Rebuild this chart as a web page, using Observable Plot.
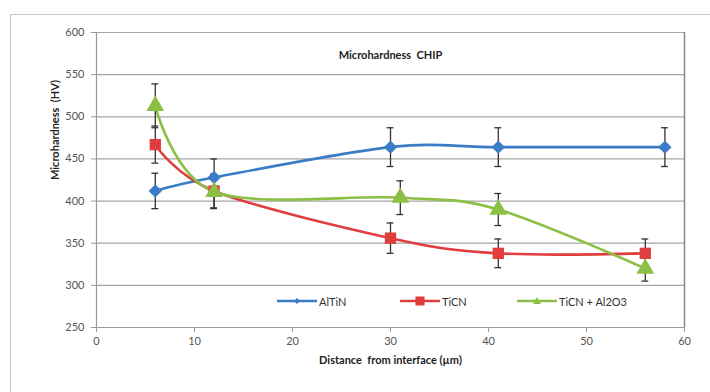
<!DOCTYPE html>
<html><head><meta charset="utf-8">
<script src="https://cdn.jsdelivr.net/npm/d3@7"></script>
<script src="https://cdn.jsdelivr.net/npm/@observablehq/plot@0.6"></script>
<style>
html,body{margin:0;padding:0;background:#fff;}
#wrap{position:relative;width:710px;height:392px;overflow:hidden;font-family:Lato,"Open Sans",sans-serif;}
#border{position:absolute;left:10px;top:14px;width:760px;height:420px;border:1px solid #c8c8c8;box-sizing:border-box;}
#legend{position:absolute;top:294px;left:0;width:710px;height:16px;font-size:11px;color:#333;}
.li{position:absolute;display:flex;align-items:center;gap:2px;}
</style></head>
<body><div id="wrap"><div id="border"></div><div id="chart"></div><div id="legend"></div></div>
<script>
const title = "Microhardness  CHIP";
const xLabel = "Distance  from interface (µm)";
const yLabel = "Microhardness  (HV)";
const seriesNames = ["AlTiN", "TiCN", "TiCN + Al2O3"];
const colors = ["#3a7cc6", "#e03e3e", "#8cbf44"];
const symbols = ["diamond2", "square", "triangle"];
const xTicks = [0, 10, 20, 30, 40, 50, 60];
const yTicks = [250, 300, 350, 400, 450, 500, 550, 600];

const distAlTiN = [6, 12, 30, 41, 58];
const hvAlTiN   = [412, 428, 464, 464, 464];
const errAlTiN  = [21, 22, 23, 23, 23];

const distTiCN = [6, 12, 30, 41, 56];
const hvTiCN   = [467, 412, 356, 338, 338];
const errTiCN  = [22, 20, 18, 17, 17];

const distMix = [6, 12, 31, 41, 56];
const hvMix   = [513, 411, 404, 390, 320];
const errMix  = [26, 20, 20, 19, 15];

const src = [[distAlTiN, hvAlTiN, errAlTiN], [distTiCN, hvTiCN, errTiCN], [distMix, hvMix, errMix]];
const data = [];
src.forEach(([xs, ys, es], i) => xs.forEach((x, j) => data.push({series: seriesNames[i], x, y: ys[j], e: es[j]})));

const capHalf = 0.35;
const marks = [
  Plot.gridY(yTicks, {stroke: "#a6a6a6", strokeOpacity: 1, strokeWidth: 1.2}),
  Plot.ruleX([60], {stroke: "#888", strokeWidth: 1.5}),
  Plot.ruleX([0], {stroke: "#9a9a9a", strokeWidth: 1.2}),
  Plot.ruleY([250], {stroke: "#9a9a9a", strokeWidth: 1.2}),
  Plot.axisY(yTicks, {tickSize: 5, tickPadding: 7, stroke: "#9a9a9a", fill: "#555", fontSize: 11, label: null}),
  Plot.axisX(xTicks, {tickSize: 5, tickPadding: 5, stroke: "#9a9a9a", fill: "#555", fontSize: 11, label: null}),
];
seriesNames.forEach((s, i) => {
  marks.push(Plot.line(data.filter(d => d.series === s), {x: "x", y: "y", stroke: colors[i], strokeWidth: 2.6, curve: "cardinal", tension: 0}));
});
marks.push(
  Plot.ruleX(data, {x: "x", y1: d => d.y - d.e, y2: d => d.y + d.e, stroke: "#333", strokeWidth: 1.3}),
  Plot.ruleY(data, {y: d => d.y - d.e, x1: d => d.x - capHalf, x2: d => d.x + capHalf, stroke: "#333", strokeWidth: 1.3}),
  Plot.ruleY(data, {y: d => d.y + d.e, x1: d => d.x - capHalf, x2: d => d.x + capHalf, stroke: "#333", strokeWidth: 1.3})
);
seriesNames.forEach((s, i) => {
  const r = i === 0 ? 6 : (i === 1 ? 6.4 : 6.6);
  marks.push(Plot.dot(data.filter(d => d.series === s), {x: "x", y: "y", symbol: () => symbols[i], fill: colors[i], stroke: "none", r}));
});
marks.push(Plot.text([title], {frameAnchor: "top", dy: 19, fontWeight: "bold", fontSize: 11, fill: "#222"}));
marks.push(Plot.text([yLabel], {frameAnchor: "left", dx: -41, rotate: -90, fontWeight: "bold", fontSize: 11, fill: "#222"}));
marks.push(Plot.text([xLabel], {frameAnchor: "bottom", dy: 36, fontWeight: "bold", fontSize: 11, fill: "#222"}));

const chart = Plot.plot({
  width: 710, height: 392,
  marginLeft: 96, marginRight: 26, marginTop: 32, marginBottom: 65,
  x: {domain: [0, 60]},
  y: {domain: [250, 600]},
  symbol: {type: "identity"},
  style: {fontFamily: "Lato, 'Open Sans', sans-serif", background: "transparent", overflow: "visible"},
  marks
});
document.getElementById("chart").appendChild(chart);
chart.style.position = "absolute"; chart.style.left = "0"; chart.style.top = "0";

// Legend
const legendX = [277, 400, 517];
const lg = document.getElementById("legend");
seriesNames.forEach((s, i) => {
  const d = document.createElement("div");
  d.className = "li"; d.style.left = legendX[i] + "px";
  const sym = i === 0 ? `<path d="M20,4 L23,7 L20,10 L17,7Z" fill="${colors[i]}"/>`
    : i === 1 ? `<rect x="15.5" y="2.5" width="9" height="9" fill="${colors[i]}"/>`
    : `<path d="M20,3 L24,10 L16,10Z" fill="${colors[i]}"/>`;
  d.innerHTML = `<svg width="40" height="14"><line x1="0" y1="7" x2="40" y2="7" stroke="${colors[i]}" stroke-width="2.6"/>${sym}</svg><span>${s}</span>`;
  lg.appendChild(d);
});
</script></body></html>
